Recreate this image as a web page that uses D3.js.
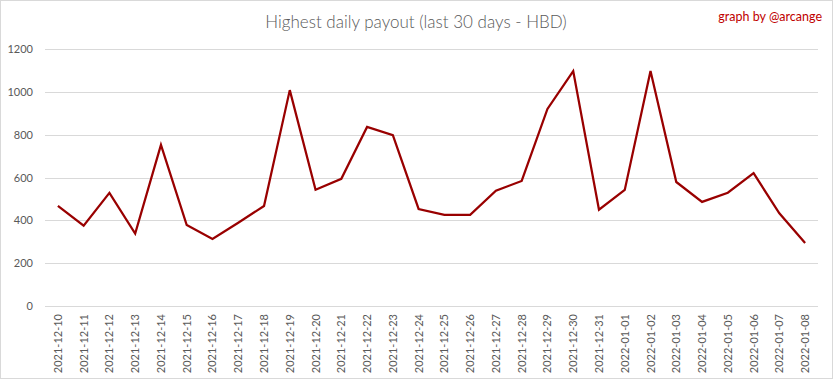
<!DOCTYPE html>
<html><head><meta charset="utf-8">
<script src="https://cdn.jsdelivr.net/npm/d3@7"></script>
<style>body{margin:0;background:#fff;}svg{display:block;}</style>
</head><body>
<script>
const dates = ["2021-12-10","2021-12-11","2021-12-12","2021-12-13","2021-12-14","2021-12-15","2021-12-16","2021-12-17","2021-12-18","2021-12-19","2021-12-20","2021-12-21","2021-12-22","2021-12-23","2021-12-24","2021-12-25","2021-12-26","2021-12-27","2021-12-28","2021-12-29","2021-12-30","2021-12-31","2022-01-01","2022-01-02","2022-01-03","2022-01-04","2022-01-05","2022-01-06","2022-01-07","2022-01-08"];
const payouts = [468,375,528,338,752,378,313,389,467,1008,543,594,836,798,453,426,426,538,584,920,1097,450,542,1097,579,486,529,620,433,294];
const yTicks = [0,200,400,600,800,1000,1200];
const title = "Highest daily payout (last 30 days - HBD)";
const credit = "graph by @arcange";

const W = 833, H = 379;
const svg = d3.select("body").append("svg").attr("width", W).attr("height", H);
svg.append("rect").attr("x",0.5).attr("y",0.5).attr("width",W-1).attr("height",H-1)
  .attr("fill","#fff").attr("stroke","#d9d9d9");

const x = d3.scaleBand().domain(dates).range([45, 818]);
const y = d3.scaleLinear().domain([0,1200]).range([306, 49]);

const font = "Lato, 'Open Sans', sans-serif";

// gridlines
svg.append("g").selectAll("line").data(yTicks).join("line")
  .attr("x1",45).attr("x2",818)
  .attr("y1",d=>Math.round(y(d))+0.5).attr("y2",d=>Math.round(y(d))+0.5)
  .attr("stroke","#d9d9d9").attr("stroke-width",1);

// y axis labels
const yAxis = d3.axisLeft(y).tickValues(yTicks).tickFormat(d3.format("d")).tickSize(0).tickPadding(0);
const gy = svg.append("g").attr("transform","translate(33,0)").call(yAxis);
gy.select(".domain").remove();
gy.selectAll("text").attr("fill","#595959").style("font-family",font).style("font-size","11px");

// x axis labels
const xAxis = d3.axisBottom(x).tickSize(0).tickPadding(0);
const gx = svg.append("g").attr("transform","translate(0,306)").call(xAxis);
gx.select(".domain").remove();
gx.selectAll("text")
  .attr("fill","#595959").style("font-family",font).style("font-size","11px")
  .attr("text-anchor","end").attr("dy",null).attr("y",0)
  .attr("transform","translate(4,8) rotate(-90)");

// line
const line = d3.line().x((d,i)=>x(dates[i])+x.bandwidth()/2).y(d=>y(d));
svg.append("path").datum(payouts).attr("d",line)
  .attr("fill","none").attr("stroke","#990000").attr("stroke-width",2.25)
  .attr("stroke-linejoin","miter");

svg.append("text").attr("x",416).attr("y",28).attr("text-anchor","middle")
  .attr("fill","#595959").style("font-family",font).style("font-size","17px").style("font-weight","300")
  .text(title);
svg.append("text").attr("x",822).attr("y",21).attr("text-anchor","end")
  .attr("fill","#c00000").style("font-family",font).style("font-size","12.5px").style("font-weight","400")
  .text(credit);
</script>
</body></html>
